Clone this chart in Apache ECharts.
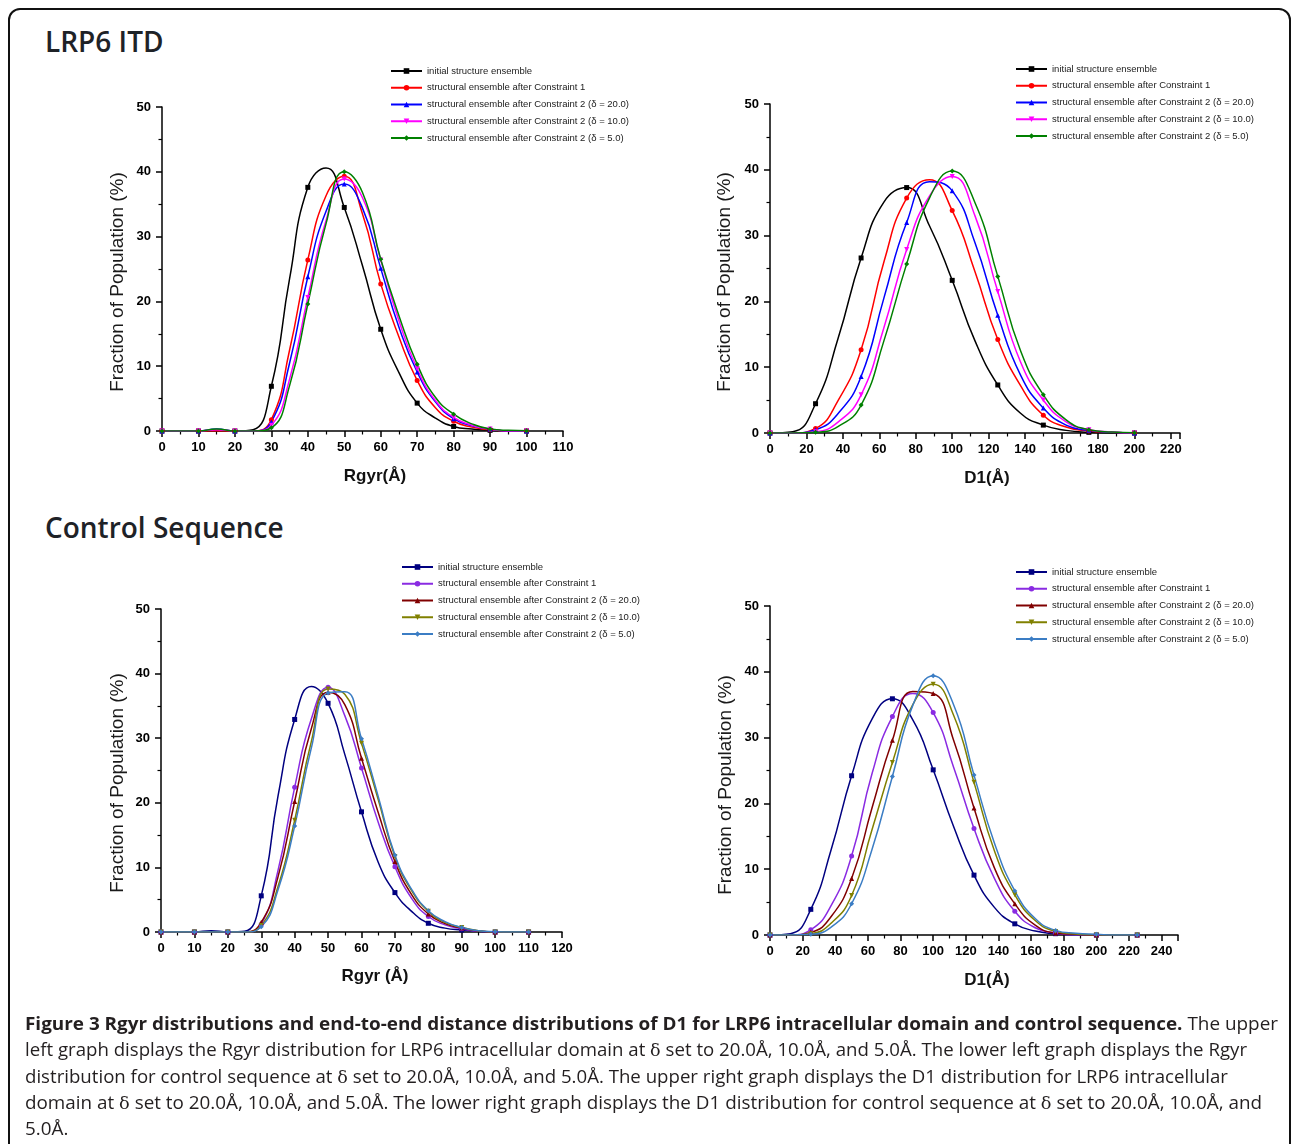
<!DOCTYPE html>
<html><head><meta charset="utf-8">
<script src="https://cdn.jsdelivr.net/npm/echarts@6/dist/echarts.min.js"></script>
<style>
html,body{margin:0;padding:0;background:#fff;}
body{width:1292px;height:1144px;position:relative;overflow:hidden;}
#frame{position:absolute;left:8px;top:8px;width:1283px;height:1220px;box-sizing:border-box;border:2px solid #111;border-radius:12px;}
.ttl{position:absolute;font-family:'Open Sans';font-weight:600;font-size:28px;line-height:28px;color:#1e2227;white-space:nowrap;}
.chart{position:absolute;left:0;top:0;width:1292px;height:1144px;}
.cap{position:absolute;left:25px;font-family:'Open Sans';font-size:18px;line-height:20px;color:#231f20;white-space:nowrap;transform-origin:0 50%;}
.cap b{font-weight:700;}
.d{font-family:'DejaVu Serif','Liberation Serif',serif;font-size:17px;}
</style></head>
<body>
<div id="frame"></div>
<div class="ttl" style="left:45px;top:27px">LRP6 ITD</div>
<div class="ttl" style="left:45px;top:513px">Control Sequence</div>
<div id="c1" class="chart"></div>
<div id="c2" class="chart"></div>
<div id="c3" class="chart"></div>
<div id="c4" class="chart"></div>
<div class="cap" id="l1" style="top:1013px"><b>Figure 3 Rgyr distributions and end-to-end distance distributions of D1 for LRP6 intracellular domain and control sequence.</b> The upper</div>
<div class="cap" id="l2" style="top:1039px">left graph displays the Rgyr distribution for LRP6 intracellular domain at <span class="d">δ</span> set to 20.0Å, 10.0Å, and 5.0Å. The lower left graph displays the Rgyr</div>
<div class="cap" id="l3" style="top:1066px">distribution for control sequence at <span class="d">δ</span> set to 20.0Å, 10.0Å, and 5.0Å. The upper right graph displays the D1 distribution for LRP6 intracellular</div>
<div class="cap" id="l4" style="top:1092px">domain at <span class="d">δ</span> set to 20.0Å, 10.0Å, and 5.0Å. The lower right graph displays the D1 distribution for control sequence at <span class="d">δ</span> set to 20.0Å, 10.0Å, and</div>
<div class="cap" id="l5" style="top:1118px">5.0Å.</div>
<script>
// ---------- data ----------
const NAMES = [
  'initial structure ensemble',
  'structural ensemble after Constraint 1',
  'structural ensemble after Constraint 2 (δ = 20.0)',
  'structural ensemble after Constraint 2 (δ = 10.0)',
  'structural ensemble after Constraint 2 (δ = 5.0)'
];
const COLORS_TOP = ['#000000', '#ff0000', '#0000ff', '#ff00ff', '#008000'];
const COLORS_BOTTOM = ['#000080', '#8a2be2', '#800000', '#808000', '#3b7dc4'];

// LRP6 ITD, Rgyr
const RG_ITD_X = [0,5,10,15,20,25,30,35,40,45,50,55,60,65,70,75,80,85,90,95,100];
const RG_ITD_INIT = [0,0,0,0,0,0.2,6.9,23.5,37.6,40.6,34.5,25.5,15.7,9.0,4.3,2.0,0.7,0.3,0.1,0,0];
const RG_ITD_C1   = [0,0,0,0,0,0,1.75,12.5,26.4,36.3,39.3,33.5,22.7,14.5,7.8,3.6,1.5,0.6,0.2,0,0];
const RG_ITD_D20  = [0,0,0,0.3,0,0,1.4,10.5,23.8,33.9,38.1,34.4,25.1,16.0,9.1,4.5,1.9,0.8,0.3,0,0];
const RG_ITD_D10  = [0,0,0,0.2,0,0,0.9,8.0,20.6,32.5,38.9,36.0,26.4,17.0,9.6,4.7,2.1,0.9,0.3,0,0];
const RG_ITD_D5   = [0,0,0,0.3,0,0,0.5,7.0,19.6,32.0,40.0,36.8,26.5,17.8,10.3,5.2,2.6,1.1,0.3,0.1,0.05];

// LRP6 ITD, D1
const D1_ITD_X = [0,12.5,25,37.5,50,62.5,75,87.5,100,112.5,125,137.5,150,162.5,175,187.5,200];
const D1_ITD_INIT = [0,0.2,4.45,14.5,26.6,35.1,37.3,31.5,23.2,14.0,7.3,3.0,1.2,0.4,0.1,0,0];
const D1_ITD_C1   = [0,0,0.7,5.0,12.65,26.0,35.7,38.5,33.8,24.5,14.2,7.2,2.7,0.9,0.3,0.1,0];
const D1_ITD_D20  = [0,0,0.5,3.0,8.6,20.5,32.0,38.2,36.8,28.9,17.9,8.8,3.8,1.2,0.4,0.1,0];
const D1_ITD_D10  = [0,0,0.2,1.7,5.8,16.0,27.9,36.0,39.0,33.0,21.5,10.8,5.0,1.7,0.5,0.15,0];
const D1_ITD_D5   = [0,0,0.1,1.0,4.25,14.0,25.7,35.7,39.8,35.0,23.8,12.5,5.8,2.0,0.5,0.15,0.05];

// Control sequence, Rgyr
const RG_CTL_X = [0,5,10,15,20,25,30,35,40,45,50,55,60,65,70,75,80,85,90,95,100,105,110];
const RG_CTL_INIT = [0,0,0,0.2,0,0.1,5.6,21.0,32.9,38.0,35.4,27.5,18.6,10.8,6.1,3.2,1.35,0.6,0.3,0.1,0,0,0];
const RG_CTL_C1   = [0,0,0,0,0,0,1.2,9.5,22.4,33.0,37.9,33.5,25.4,17.0,10.1,5.2,2.4,1.1,0.5,0.1,0,0,0];
const RG_CTL_D20  = [0,0,0,0,0,0,1.5,8.5,20.2,31.5,37.1,35.2,26.9,18.5,10.9,5.8,2.8,1.3,0.6,0.15,0,0,0];
const RG_CTL_D10  = [0,0,0,0,0,0,1.0,7.0,17.3,29.5,37.6,36.8,29.2,20.5,11.7,6.4,3.2,1.5,0.7,0.2,0,0,0];
const RG_CTL_D5   = [0,0,0,0,0,0,0.8,6.5,16.4,28.5,37.0,37.2,29.9,21.0,11.9,6.6,3.3,1.6,0.7,0.2,0.05,0,0];

// Control sequence, D1
const D1_CTL_X = [0,12.5,25,37.5,50,62.5,75,87.5,100,112.5,125,137.5,150,162.5,175,187.5,200,212.5,225];
const D1_CTL_INIT = [0,0.2,3.9,13.0,24.2,32.8,35.9,32.7,25.1,16.5,9.1,4.2,1.7,0.6,0.2,0,0,0,0];
const D1_CTL_C1   = [0,0,0.8,4.5,12.0,24.5,33.2,36.7,33.8,25.5,16.2,8.6,3.6,1.1,0.3,0,0,0,0];
const D1_CTL_D20  = [0,0,0.4,2.8,8.6,19.3,29.6,37.0,36.7,29.6,19.3,10.2,4.75,1.5,0.3,0.1,0,0,0];
const D1_CTL_D10  = [0,0,0.2,1.8,6.0,16.0,26.2,35.0,38.1,33.4,23.2,12.8,6.1,2.2,0.55,0.15,0,0,0];
const D1_CTL_D5   = [0,0,0.1,1.2,4.75,13.0,24.1,34.9,39.4,35.0,24.3,14.0,6.7,2.5,0.7,0.25,0.1,0,0];

// ---------- drawing ----------
const SYMS = ['rect', 'circle', 'triangle', 'path://M0,0L10,0L5,9Z', 'diamond'];
const FONT = "'Liberation Sans', Arial, sans-serif";

function axisCommon(max, interval) {
  return {
    type: 'value', min: 0, max: max, interval: interval,
    axisLine: { show: true, onZero: false, lineStyle: { color: '#000', width: 1.5 } },
    axisTick: { show: true, length: 6, lineStyle: { color: '#000', width: 1.5 } },
    minorTick: { show: true, splitNumber: 2, length: 3.5, lineStyle: { color: '#000', width: 1.2 } },
    splitLine: { show: false }, minorSplitLine: { show: false },
    axisLabel: { color: '#000', fontWeight: 'bold', fontSize: 13, fontFamily: FONT,
                 showMaxLabel: max % interval === 0 }
  };
}

function panel(id, p) {
  const chart = echarts.init(document.getElementById(id), null, { width: 1292, height: 1144 });
  const series = p.ys.map((ys, k) => ({
    type: 'line', name: NAMES[k], smooth: 0.5, symbol: SYMS[k], symbolSize: 5,
    showSymbol: true, showAllSymbol: true, animation: false, clip: true,
    lineStyle: { color: p.colors[k], width: 1.5 },
    itemStyle: { color: p.colors[k] },
    emphasis: { disabled: true },
    data: p.x.map((x, i) => ({ value: [x, ys[i]], symbol: i % 2 === 0 ? SYMS[k] : 'none' }))
  }));
  const xa = axisCommon(p.xmax, p.xint);
  xa.axisLabel.margin = 10;
  const ya = axisCommon(50, 10);
  ya.axisLabel.margin = 11;
  chart.setOption({
    animation: false,
    grid: { left: p.grid[0], top: p.grid[1], width: p.grid[2], height: p.grid[3] },
    xAxis: xa, yAxis: ya,
    legend: {
      orient: 'vertical', left: p.leg[0], top: p.leg[1], padding: 0,
      itemWidth: 31, itemHeight: 7, itemGap: 6.75,
      textStyle: { fontSize: 9.5, fontFamily: FONT, color: '#222' },
      data: NAMES
    },
    graphic: [
      { type: 'text', x: p.xt[0], y: p.xt[1],
        style: { text: p.xtitle, font: "bold 17px " + FONT, fill: '#111', align: 'center', verticalAlign: 'middle' } },
      { type: 'text', x: p.yt[0], y: p.yt[1], rotation: Math.PI / 2,
        style: { text: 'Fraction of Population (%)', font: "19px " + FONT, fill: '#1a1a1a', align: 'center', verticalAlign: 'middle' } }
    ],
    series: series
  });
}

panel('c1', { x: RG_ITD_X, ys: [RG_ITD_INIT, RG_ITD_C1, RG_ITD_D20, RG_ITD_D10, RG_ITD_D5],
  colors: COLORS_TOP, xmax: 110, xint: 10, grid: [162, 107, 401, 324],
  leg: [390, 66], xt: [375, 476], yt: [118, 282], xtitle: 'Rgyr(Å)' });
panel('c2', { x: D1_ITD_X, ys: [D1_ITD_INIT, D1_ITD_C1, D1_ITD_D20, D1_ITD_D10, D1_ITD_D5],
  colors: COLORS_TOP, xmax: 225, xint: 20, grid: [770, 104, 410, 329],
  leg: [1015, 64], xt: [987, 478], yt: [725, 282], xtitle: 'D1(Å)' });
panel('c3', { x: RG_CTL_X, ys: [RG_CTL_INIT, RG_CTL_C1, RG_CTL_D20, RG_CTL_D10, RG_CTL_D5],
  colors: COLORS_BOTTOM, xmax: 120, xint: 10, grid: [161, 609, 401, 323],
  leg: [401, 562], xt: [375, 976], yt: [118, 783], xtitle: 'Rgyr (Å)' });
panel('c4', { x: D1_CTL_X, ys: [D1_CTL_INIT, D1_CTL_C1, D1_CTL_D20, D1_CTL_D10, D1_CTL_D5],
  colors: COLORS_BOTTOM, xmax: 250, xint: 20, grid: [770, 606, 408, 329],
  leg: [1015, 567], xt: [987, 980], yt: [726, 785], xtitle: 'D1(Å)' });

// fit caption lines to the reference line widths
const targets = { l1: 1253, l2: 1222, l3: 1203, l4: 1237 };
let sc = 1;
for (const id in targets) {
  const el = document.getElementById(id);
  const w = el.getBoundingClientRect().width;
  sc = targets[id] / w;
  el.style.transform = 'scaleX(' + sc + ')';
}
document.getElementById('l5').style.transform = 'scaleX(' + sc + ')';
</script>
</body></html>
